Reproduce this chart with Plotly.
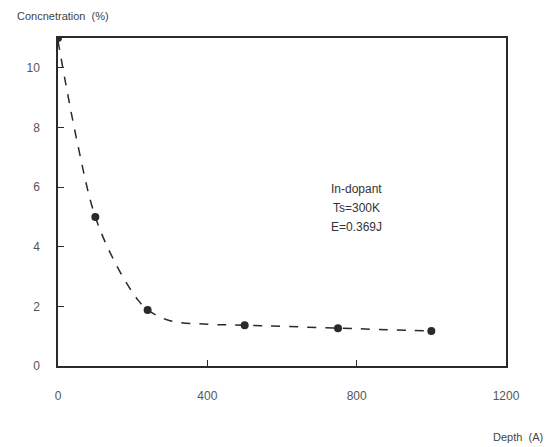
import plotly.graph_objects as go

# Measured points
depth_pts = [0, 100, 240, 500, 750, 1000]
conc_pts = [11.0, 5.0, 1.88, 1.37, 1.27, 1.17]

# Dashed guide curve
depth_curve = [0, 50, 100, 160, 215, 240, 300, 400, 500, 750, 1000]
conc_curve = [10.9, 7.6, 5.0, 3.3, 2.2, 1.88, 1.52, 1.4, 1.37, 1.27, 1.17]

x_ticks = [0, 400, 800, 1200]
x_ticktext = ["0", "400", "800", "1200"]
y_ticks = [0, 2, 4, 6, 8, 10]

note_lines = ["In-dopant", "Ts=300K", "E=0.369J"]
note_y = [5.93, 5.3, 4.67]

ink = "#2a2a2a"
label_col = "#555555"

fig = go.Figure()
fig.add_trace(go.Scatter(
    x=depth_curve, y=conc_curve, mode="lines",
    line=dict(color=ink, width=1.5, dash="dash", shape="spline"),
    hoverinfo="skip", showlegend=False))
fig.add_trace(go.Scatter(
    x=depth_pts, y=conc_pts, mode="markers",
    marker=dict(color=ink, size=8),
    showlegend=False))

annotations = [
    dict(text="Concnetration  (%)", xref="paper", yref="paper",
         x=-0.095, y=1.0, yshift=22, xanchor="left", yanchor="middle",
         showarrow=False, font=dict(size=11, color="#444444")),
    dict(text="Depth  (A)", xref="paper", yref="paper",
         x=1.0, y=0.0, xshift=39, yshift=-71, xanchor="right", yanchor="middle",
         showarrow=False, font=dict(size=11, color="#444444")),
]
for t, yy in zip(note_lines, note_y):
    annotations.append(dict(text=t, xref="x", yref="y", x=800, y=yy,
                            xanchor="center", yanchor="middle", showarrow=False,
                            font=dict(size=12, color="#333333")))

fig.update_layout(
    width=552, height=447,
    margin=dict(l=58, r=46, t=38, b=81),
    paper_bgcolor="white", plot_bgcolor="white",
    font=dict(family="Liberation Sans, Arial, sans-serif", size=12, color=label_col),
    xaxis=dict(range=[0, 1200], tickvals=x_ticks, ticktext=x_ticktext,
               showgrid=False, zeroline=False, showline=True, linecolor=ink,
               linewidth=1.5, mirror=True, ticks="inside", ticklen=6,
               tickcolor=ink, ticklabelstandoff=18),
    yaxis=dict(range=[0, 11], tickvals=y_ticks,
               showgrid=False, zeroline=False, showline=True, linecolor=ink,
               linewidth=1.5, mirror=True, ticks="inside", ticklen=6,
               tickcolor=ink, ticklabelstandoff=14),
    annotations=annotations,
)

fig.write_html("out.html")
